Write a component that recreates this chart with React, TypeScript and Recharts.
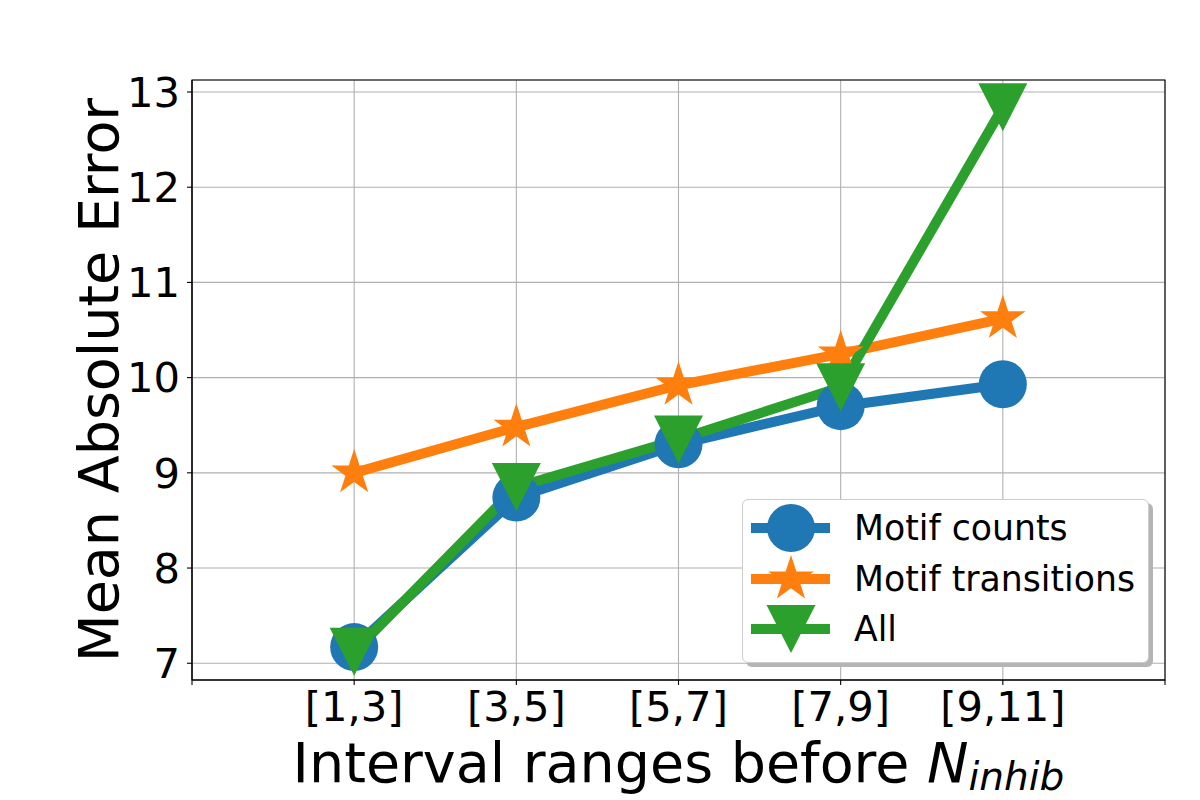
import React from "react";
import { LineChart, Line, XAxis, YAxis, CartesianGrid, ReferenceArea, Label } from "recharts";

// interval ranges on the x axis
const categories = ["[1,3]", "[3,5]", "[5,7]", "[7,9]", "[9,11]"];
// mean absolute error per feature set
const motifCounts = [7.17, 8.74, 9.3, 9.7, 9.93];
const motifTransitions = [9.0, 9.48, 9.92, 10.25, 10.62];
const allFeatures = [7.12, 8.85, 9.35, 9.9, 12.84];
const yTicks = [7, 8, 9, 10, 11, 12, 13];
const xTicks = [-1, 0, 1, 2, 3, 4, 5];

const X_DOMAIN: [number, number] = [-1, 5];
const Y_DOMAIN: [number, number] = [6.824, 13.126];

const FONT = "'DejaVu Sans', sans-serif";

const data = categories.map((c, i) => ({
  idx: i,
  label: c,
  counts: motifCounts[i],
  transitions: motifTransitions[i],
  all: allFeatures[i],
}));

type Shape = "circle" | "star" | "triangle";

const series: { key: string; name: string; color: string; shape: Shape }[] = [
  { key: "counts", name: "Motif counts", color: "#1f77b4", shape: "circle" },
  { key: "transitions", name: "Motif transitions", color: "#ff7f0e", shape: "star" },
  { key: "all", name: "All", color: "#2ca02c", shape: "triangle" },
];

function starPoints(cx: number, cy: number, r: number) {
  const pts: string[] = [];
  for (let k = 0; k < 10; k++) {
    const a = (-90 + k * 36) * (Math.PI / 180);
    const rr = k % 2 === 0 ? r : r * 0.381966;
    pts.push(`${cx + rr * Math.cos(a)},${cy + rr * Math.sin(a)}`);
  }
  return pts.join(" ");
}

function Marker({ shape, cx, cy, color }: { shape: Shape; cx: number; cy: number; color: string }) {
  if (shape === "circle") return <circle cx={cx} cy={cy} r={24} fill={color} />;
  if (shape === "star") return <polygon points={starPoints(cx, cy, 24)} fill={color} />;
  return (
    <polygon
      points={`${cx - 24.5},${cy - 24} ${cx + 24.5},${cy - 24} ${cx},${cy + 24}`}
      fill={color}
    />
  );
}

const makeDot = (shape: Shape, color: string) => (props: any) => {
  const { cx, cy, index } = props;
  if (cx == null || cy == null) return <g key={`d-${index}`} />;
  return (
    <g key={`d-${shape}-${index}`}>
      <Marker shape={shape} cx={cx} cy={cy} color={color} />
    </g>
  );
};

const renderXLabel = (props: any) => {
  const vb = props.viewBox;
  return (
    <text
      x={vb.x + vb.width / 2}
      y={vb.y + 102}
      textAnchor="middle"
      fontSize={55.5}
      fontFamily={FONT}
      fill="#000"
    >
      Interval ranges before{" "}
      <tspan fontStyle="italic">N</tspan>
      <tspan fontStyle="italic" fontSize={39} dy={8}>
        inhib
      </tspan>
    </text>
  );
};

const renderYLabel = (props: any) => {
  const vb = props.viewBox;
  const x = vb.x + 6;
  const y = vb.y + vb.height / 2;
  return (
    <text
      x={x}
      y={y}
      transform={`rotate(-90, ${x}, ${y})`}
      textAnchor="middle"
      fontSize={55.5}
      fontFamily={FONT}
      fill="#000"
    >
      Mean Absolute Error
    </text>
  );
};

function LegendBox() {
  return (
    <div
      style={{
        position: "absolute",
        left: 742,
        top: 499,
        width: 405,
        height: 162,
        border: "1px solid #cccccc",
        borderRadius: 6,
        background: "#fff",
        boxShadow: "4px 4px 0 #b5b5b5",
        fontFamily: FONT,
      }}
    >
      {series.map((s, i) => (
        <div
          key={s.key}
          style={{
            position: "absolute",
            left: 0,
            top: 28 + i * 50.5 - 25,
            height: 50,
            display: "flex",
            alignItems: "center",
          }}
        >
          <svg width={100} height={50} style={{ marginLeft: 0 }}>
            <line x1={8} x2={87} y1={25} y2={25} stroke={s.color} strokeWidth={10} />
            <Marker shape={s.shape} cx={48} cy={25} color={s.color} />
          </svg>
          <span style={{ marginLeft: 11, fontSize: 34.7, color: "#000", whiteSpace: "nowrap" }}>
            {s.name}
          </span>
        </div>
      ))}
    </div>
  );
}

export default function App() {
  return (
    <div style={{ position: "relative", width: 1200, height: 800, background: "#fff" }}>
      <style>{`body{margin:0}`}</style>
      <LineChart
        width={1200}
        height={800}
        data={data}
        margin={{ top: 80, right: 35, bottom: 60, left: 112 }}
        style={{ fontFamily: FONT }}
      >
        <CartesianGrid stroke="#b0b0b0" strokeWidth={1.1} />
        <XAxis
          type="number"
          dataKey="idx"
          domain={X_DOMAIN}
          ticks={xTicks}
          interval={0}
          allowDataOverflow
          height={60}
          tickSize={5}
          tickMargin={6}
          tickLine={{ stroke: "#000", strokeWidth: 1.1 }}
          axisLine={{ stroke: "#000", strokeWidth: 1.1 }}
          tick={{ fontSize: 41.7, fill: "#000", fontFamily: FONT }}
          tickFormatter={(v: number) => categories[v] ?? ""}
          label={<Label content={renderXLabel} />}
        />
        <YAxis
          type="number"
          domain={Y_DOMAIN}
          ticks={yTicks}
          interval={0}
          allowDataOverflow
          width={80}
          tickSize={5}
          tickMargin={7}
          tickLine={{ stroke: "#000", strokeWidth: 1.1 }}
          axisLine={{ stroke: "#000", strokeWidth: 1.1 }}
          tick={{ fontSize: 41.7, fill: "#000", fontFamily: FONT }}
          label={<Label content={renderYLabel} />}
        />
        {series.map((s) => (
          <Line
            key={s.key}
            type="linear"
            dataKey={s.key}
            name={s.name}
            stroke={s.color}
            strokeWidth={10}
            dot={makeDot(s.shape, s.color)}
            activeDot={false}
            isAnimationActive={false}
          />
        ))}
        <ReferenceArea
          x1={X_DOMAIN[0]}
          x2={X_DOMAIN[1]}
          y1={Y_DOMAIN[0]}
          y2={Y_DOMAIN[1]}
          fill="none"
          fillOpacity={0}
          stroke="#000"
          strokeWidth={1.1}
        />
      </LineChart>
      <LegendBox />
    </div>
  );
}
